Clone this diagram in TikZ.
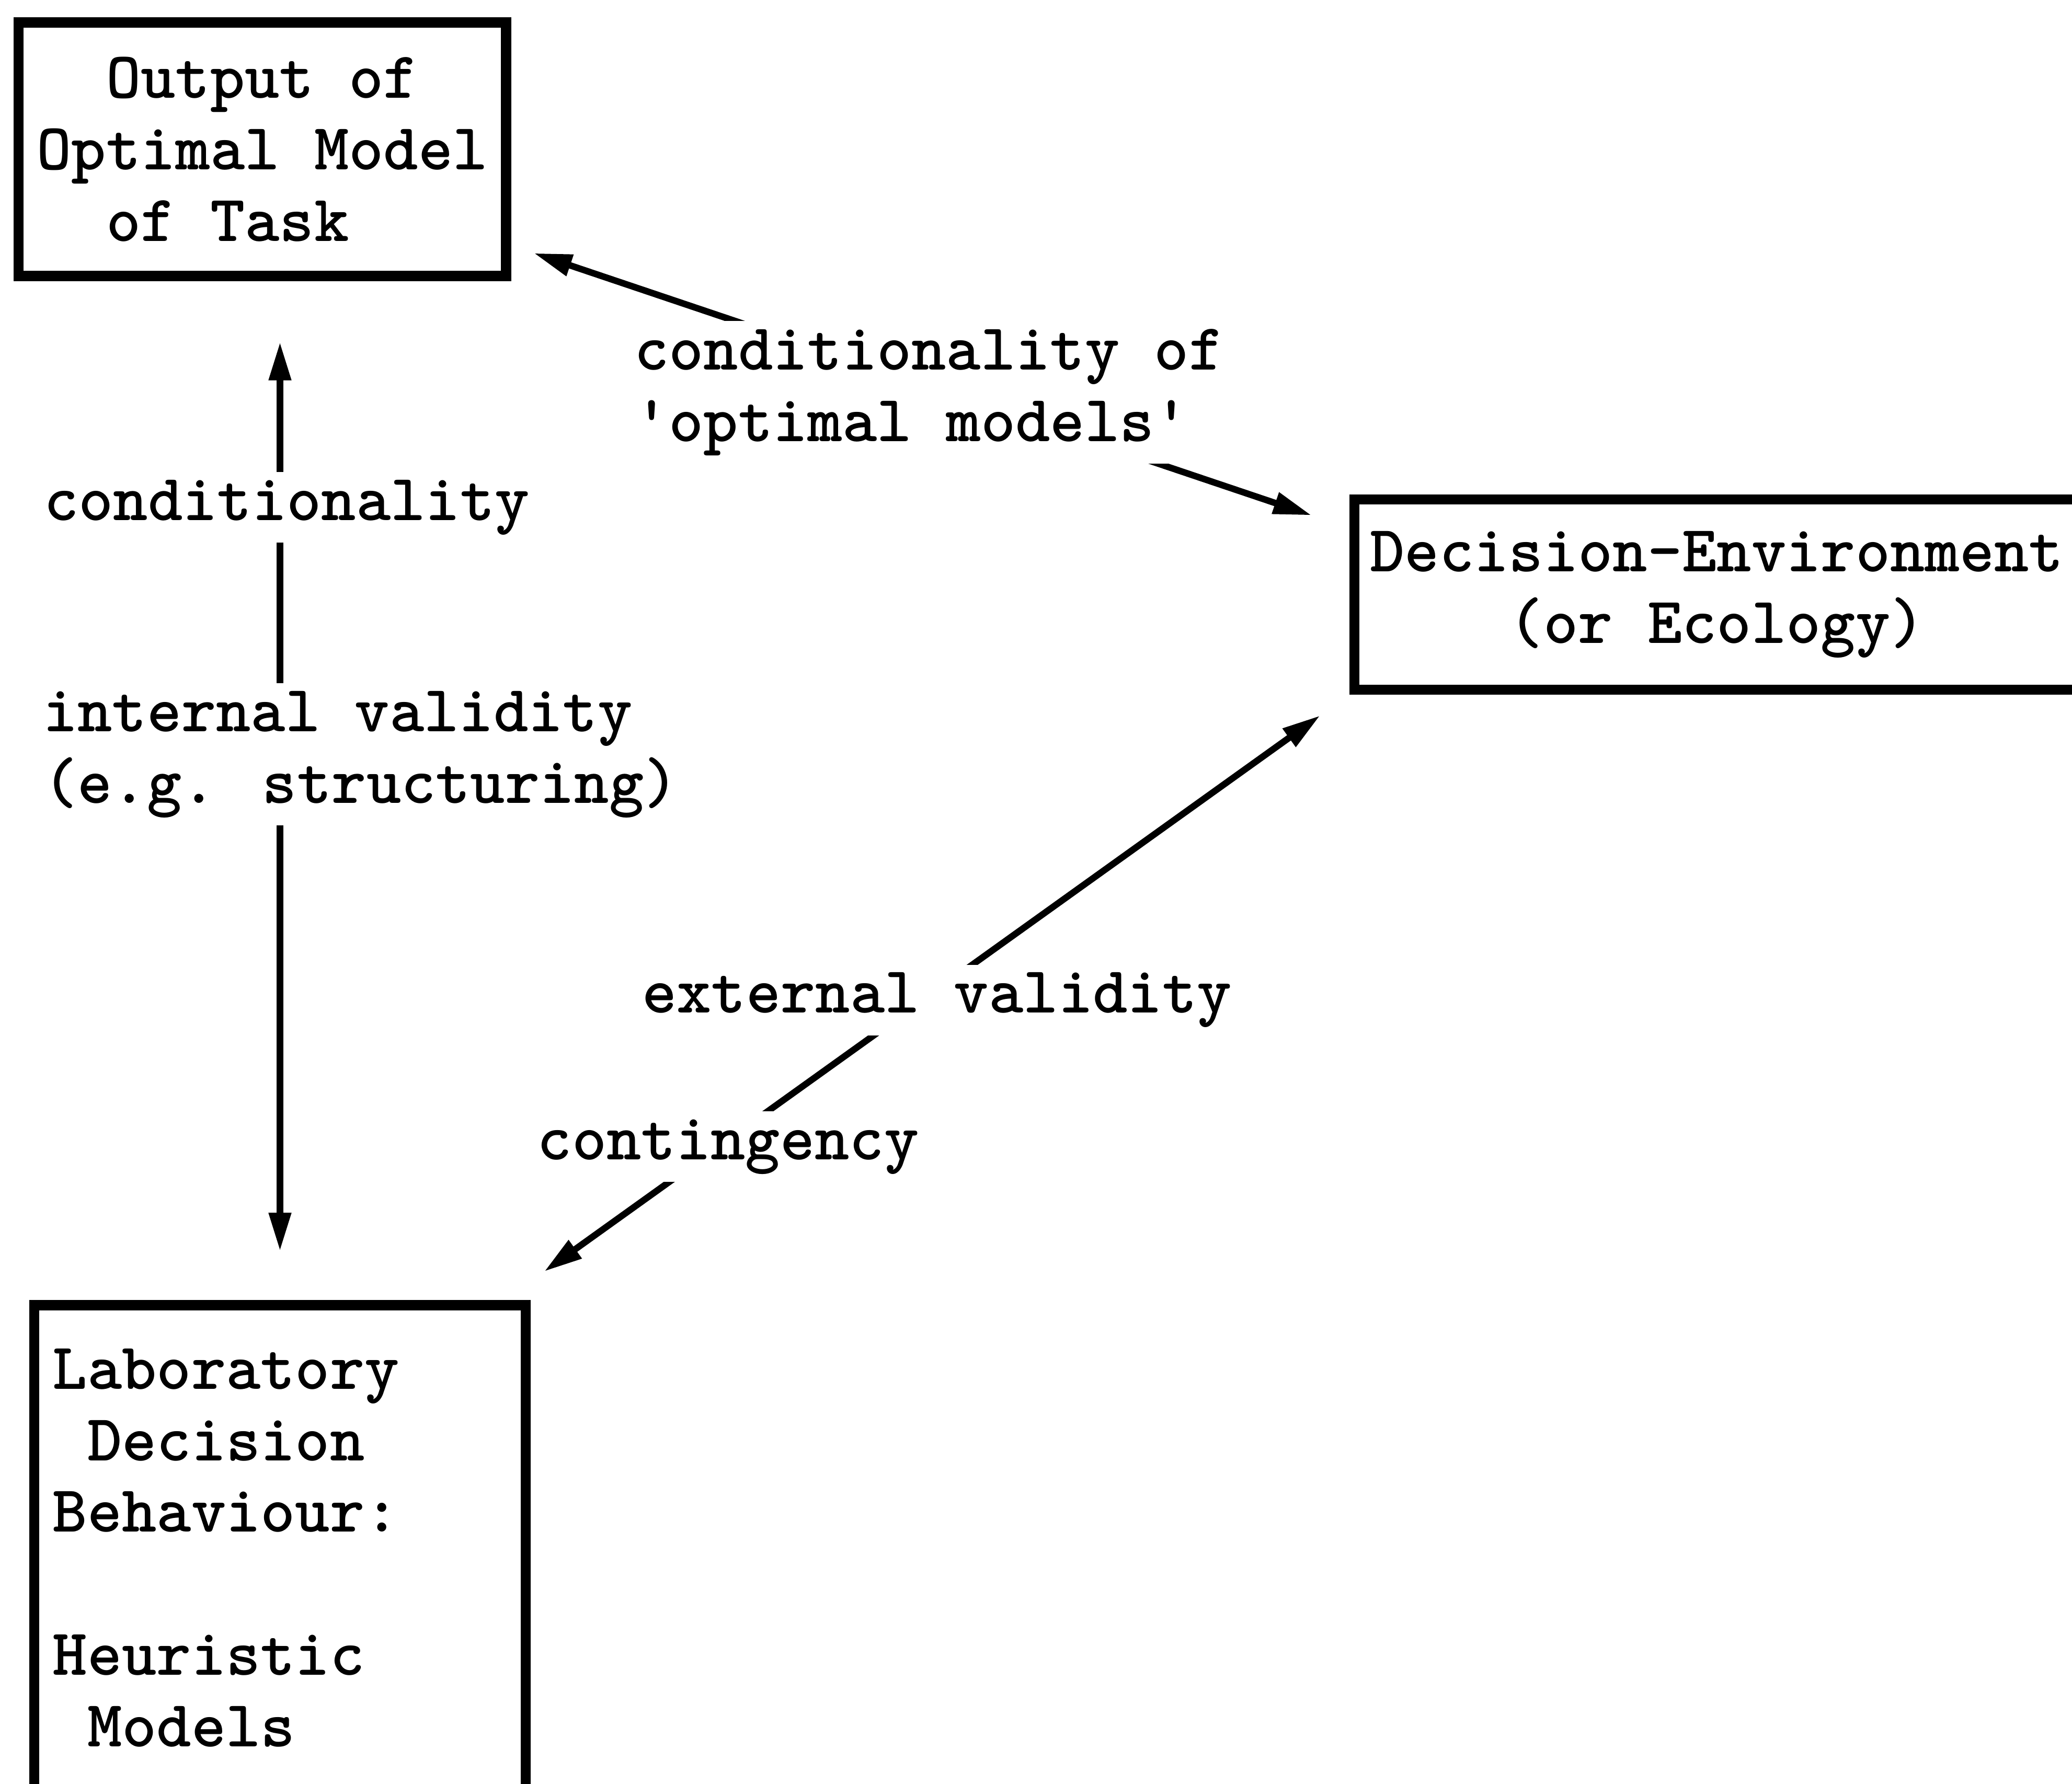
\documentclass[tikz,border=0pt]{standalone}
\usetikzlibrary{arrows.meta}

\begin{document}
\begin{tikzpicture}[
        font=\ttfamily\bfseries\fontsize{14.22}{15.4}\selectfont,
        box/.style={draw,line width=2.2pt,align=flush left,inner sep=0pt},
        lbl/.style={fill=white,align=flush left,inner sep=0.06cm},
        arr/.style={{Triangle[length=0.29cm,width=0.16cm]}-{Triangle[length=0.29cm,width=0.16cm]},line width=1.4pt}]
        \useasboundingbox (0,0) rectangle (15.68,13.50);

        \node[box,minimum width=3.69cm,minimum height=1.92cm] (optbox) at (1.985,12.37)
                {~~Output of\\Optimal Model\\~~of Task};
        \node[box,anchor=west,text width=5.6cm,inner xsep=0.12cm,minimum height=1.44cm] (envbox) at (10.21,9.00)
                {Decision-Environment\\~~~~(or Ecology)};
        \node[box,anchor=north west,text width=3.44cm,inner xsep=0.14cm,inner ysep=0.33cm] (labbox) at (0.22,3.66)
                {Laboratory\\~Decision\\Behaviour:\\[15.4pt]Heuristic\\~Models};

        \draw[arr,shorten <=0.46cm,shorten >=0.37cm] (labbox.north |- optbox.south) -- (labbox.north);
        \draw[arr,shorten <=0.18cm,shorten >=0.30cm] ([yshift=0.27cm]optbox.south east) -- ([yshift=-0.255cm]envbox.north west);
        \draw[arr,shorten <=0.37cm,shorten >=0.27cm] ([xshift=-0.2cm]labbox.north east) -- (envbox.south west);

        \node[lbl] (condlbl) at (2.17,9.66) {conditionality};
        \node[lbl] (intlbl)  at (2.73,7.79) {internal validity\\(e.g. structuring)};
        \node[lbl] (optlbl)  at (7.03,10.53) {conditionality of\\\textquotesingle optimal models\textquotesingle};
        \node[lbl] (extlbl)  at (7.09,5.93) {external validity};
        \node[lbl] (contlbl) at (5.51,4.82) {contingency};
\end{tikzpicture}
\end{document}
